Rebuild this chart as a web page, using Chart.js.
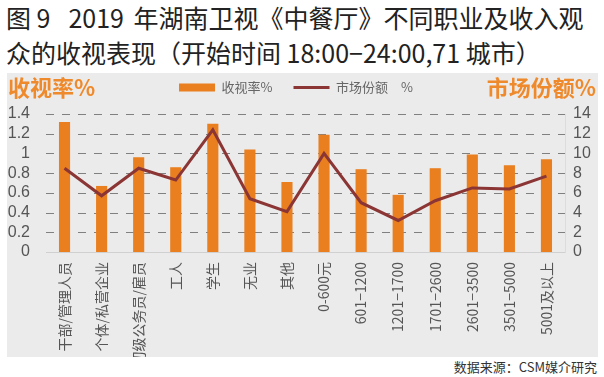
<!DOCTYPE html>
<html>
<head>
<meta charset="utf-8">
<script src="https://cdn.jsdelivr.net/npm/chart.js@4"></script>
<style>
  body { margin: 0; width: 604px; height: 377px; background: #fff; position: relative; overflow: hidden;
         font-family: "Noto Sans CJK SC", "Noto Sans", sans-serif; }
  .title { position: absolute; left: 6px; font-size: 25px; color: #222; white-space: nowrap; line-height: 1; }
  #panel { position: absolute; left: 7px; top: 73px; width: 591px; height: 284px; background: #ebebeb; }
  .axisname { position: absolute; top: 2px; font-size: 22px; font-weight: bold; color: #ef8a2c; line-height: 1; }
  #src { position: absolute; right: 7px; top: 357px; font-size: 13px; color: #333; }
</style>
</head>
<body>
<div class="title" style="top:5px">图 9<span style="display:inline-block;width:18px"></span>2019<span style="display:inline-block;width:4px"></span> 年湖南卫视《中餐厅》不同职业及收入观</div>
<div class="title" style="top:40px">众的收视表现（开始时间 18:00−24:00,71 城市）</div>
<div id="panel">
  <canvas id="chart1" width="591" height="284"></canvas>
  <div class="axisname" style="left:1px">收视率%</div>
  <div class="axisname" style="right:2px">市场份额%</div>
</div>
<div id="src">数据来源：CSM媒介研究</div>
<script>
// 类别（职业 / 收入）
const categories = ['干部/管理人员', '个体/私营企业', '初级公务员/雇员', '工人', '学生', '无业', '其他',
  '0-600元', '601−1200', '1201−1700', '1701−2600', '2601−3500', '3501−5000', '5001及以上'];
// 收视率 %
const ratings = [1.32, 0.67, 0.96, 0.86, 1.30, 1.04, 0.71, 1.19, 0.84, 0.58, 0.85, 0.99, 0.88, 0.94];
// 市场份额 %
const shares = [8.5, 5.7, 8.5, 7.3, 12.4, 5.4, 4.1, 10.0, 5.0, 3.2, 5.2, 6.5, 6.4, 7.7];

const tickFont = { family: 'Liberation Sans, Arial, sans-serif', size: 16 };
const ctx1 = document.getElementById('chart1');

// 图例高度固定，让绘图区从合适的位置开始
const legendHeight = {
  id: 'legendHeight',
  beforeInit(chart) {
    const fit = chart.legend.fit;
    chart.legend.fit = function () {
      fit.call(this);
      this.height = 41;
    };
  }
};

// 虚线网格线（按左轴刻度画）
const dashedGrid = {
  id: 'dashedGrid',
  beforeDatasetsDraw(chart) {
    const { ctx, chartArea } = chart;
    const y = chart.scales.y;
    ctx.save();
    ctx.strokeStyle = '#808080';
    ctx.lineWidth = 1;
    ctx.setLineDash([8, 8]);
    ctx.beginPath();
    y.ticks.forEach((t, i) => {
      if (i === 0) return;
      const py = Math.round(y.getPixelForTick(i)) + 0.5;
      ctx.moveTo(chartArea.left, py);
      ctx.lineTo(chartArea.right, py);
    });
    ctx.stroke();
    ctx.restore();
  }
};

new Chart(ctx1, {
  data: {
    labels: categories,
    datasets: [{
      type: 'bar',
      label: '收视率%',
      data: ratings,
      backgroundColor: '#e97f1f',
      borderColor: '#e97f1f',
      borderWidth: 0,
      barPercentage: 0.3,
      categoryPercentage: 1,
      yAxisID: 'y',
      order: 2
    }, {
      type: 'line',
      label: '市场份额 %',
      data: shares,
      borderColor: '#8b3535',
      backgroundColor: '#8b3535',
      borderWidth: 3,
      pointRadius: 0,
      tension: 0,
      yAxisID: 'y1',
      order: 1
    }]
  },
  plugins: [legendHeight, dashedGrid],
  options: {
    responsive: false,
    animation: false,
    plugins: {
      tooltip: { enabled: false },
      legend: {
        position: 'top',
        labels: {
          color: '#666',
          font: { family: 'Noto Sans CJK SC', size: 13 },
          usePointStyle: true,
          pointStyleWidth: 36,
          boxHeight: 8,
          padding: 8,
          sort: (a, b) => a.datasetIndex - b.datasetIndex,
          generateLabels: chart => {
            const items = Chart.defaults.plugins.legend.labels.generateLabels(chart);
            items.forEach(it => {
              if (it.datasetIndex === 0) {
                it.pointStyle = 'rect';
                it.lineWidth = 0;
                it.text = it.text + '\u3000';
              } else {
                it.pointStyle = 'line';
                it.text = '市场份额\u2003%\u3000';
              }
            });
            return items;
          }
        }
      }
    },
    scales: {
      x: {
        grid: { display: false },
        border: { display: true, color: '#d0d0d0' },
        ticks: {
          color: '#555',
          font: { family: 'Noto Sans CJK SC', size: 14 },
          minRotation: 90,
          maxRotation: 90,
          autoSkip: false,
          padding: 2
        },
        afterFit: s => { s.height = 105; }
      },
      y: {
        position: 'left',
        min: 0, max: 1.4,
        ticks: {
          stepSize: 0.2, autoSkip: false, color: '#555', font: tickFont, padding: 8,
          callback: v => String(Math.round(v * 10) / 10)
        },
        grid: { display: false },
        border: { display: false },
        afterFit: s => { s.width = 39; }
      },
      y1: {
        position: 'right',
        min: 0, max: 14,
        ticks: { stepSize: 2, autoSkip: false, color: '#555', font: tickFont, padding: 8 },
        grid: { drawOnChartArea: false, drawTicks: false },
        border: { display: true, color: '#dcdcdc' },
        afterFit: s => { s.width = 33; }
      }
    }
  }
});
</script>
</body>
</html>
